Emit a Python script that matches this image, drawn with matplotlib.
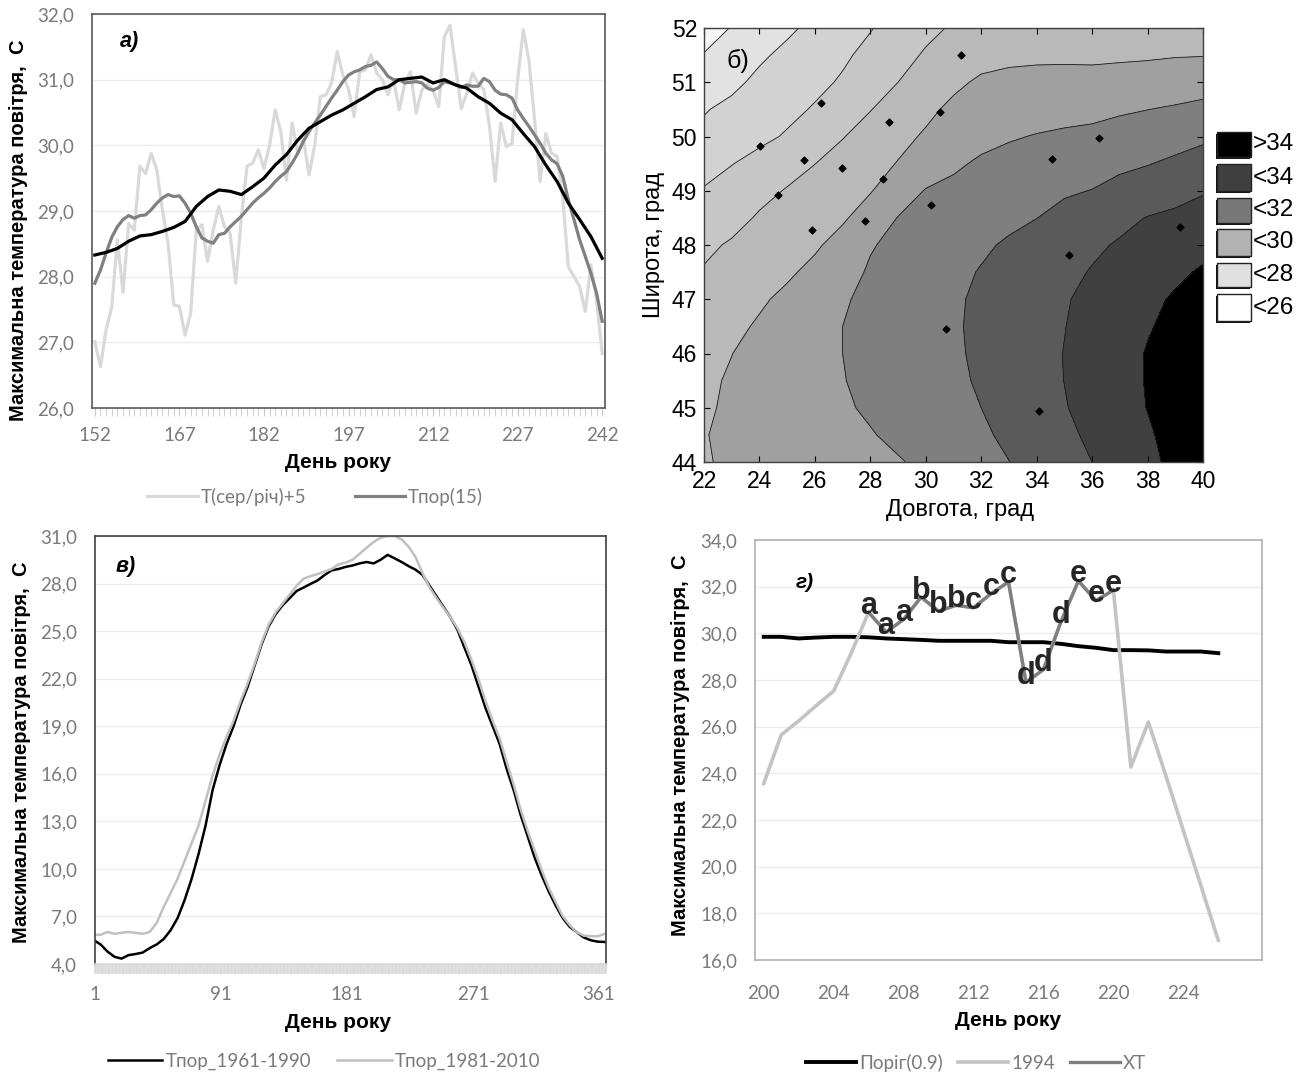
import numpy as np
import matplotlib
matplotlib.use('Agg')
import matplotlib.pyplot as plt
from matplotlib.patches import Rectangle
from matplotlib.ticker import FuncFormatter, MultipleLocator

# ---------------- data ----------------
# panel a) : summer days 152..242
days_a = np.arange(152, 243)
t_avg5 = [27.01, 26.63, 27.19, 27.54, 28.56, 27.76, 28.81, 28.71, 29.68, 29.57,
          29.88, 29.62, 29.01, 28.50, 27.57, 27.55, 27.11, 27.44, 28.71, 28.79,
          28.23, 28.71, 29.07, 28.76, 28.66, 27.90, 28.91, 29.68, 29.73, 29.93,
          29.65, 30.00, 30.54, 30.20, 29.47, 30.34, 29.88, 30.10, 29.55, 30.00,
          30.74, 30.77, 30.95, 31.43, 31.07, 30.85, 30.44, 31.12, 31.15, 31.38,
          31.10, 31.00, 30.77, 31.00, 30.54, 30.95, 31.12, 30.49, 30.84, 30.94,
          30.84, 30.59, 31.65, 31.83, 31.20, 30.56, 30.80, 31.10, 30.95, 30.85,
          30.30, 29.45, 30.34, 29.98, 30.03, 31.00, 31.76, 31.30, 30.40, 29.45,
          30.18, 29.88, 29.83, 29.20, 28.15, 28.00, 27.85, 27.47, 28.18, 27.64,
          26.83]
t_por15 = [27.90, 28.10, 28.36, 28.60, 28.76, 28.87, 28.93, 28.89, 28.93, 28.94,
           29.02, 29.12, 29.20, 29.25, 29.22, 29.23, 29.12, 28.97, 28.76, 28.59,
           28.54, 28.51, 28.64, 28.66, 28.76, 28.84, 28.92, 29.02, 29.12, 29.20,
           29.27, 29.35, 29.45, 29.53, 29.60, 29.73, 29.88, 30.06, 30.21, 30.34,
           30.46, 30.59, 30.72, 30.84, 30.97, 31.07, 31.12, 31.15, 31.20, 31.22,
           31.27, 31.17, 31.05, 31.00, 31.00, 30.95, 30.96, 30.97, 30.95, 30.87,
           30.84, 30.88, 30.97, 30.95, 30.92, 30.88, 30.92, 30.90, 30.90, 31.02,
           30.97, 30.84, 30.78, 30.77, 30.72, 30.54, 30.41, 30.29, 30.16, 30.03,
           29.88, 29.78, 29.72, 29.53, 29.17, 28.87, 28.56, 28.31, 28.05, 27.75,
           27.32]
days_smooth = np.arange(152, 243, 2)
t_smooth = [28.33, 28.37, 28.43, 28.54, 28.62, 28.64, 28.69, 28.75, 28.84, 29.07,
            29.22, 29.32, 29.30, 29.25, 29.37, 29.50, 29.70, 29.86, 30.08, 30.26,
            30.36, 30.46, 30.54, 30.64, 30.74, 30.85, 30.89, 31.00, 31.02, 31.04,
            30.95, 31.00, 30.92, 30.87, 30.74, 30.64, 30.49, 30.39, 30.18, 29.98,
            29.70, 29.45, 29.12, 28.87, 28.61, 28.28]

# panel б) : Tmax (rows = lat 44..52 by 0.5, cols = lon 22..40)
lon_grid = np.arange(22, 41)
lat_grid = np.arange(44, 52.01, 0.5)
field = [
    [29.95, 30.10, 30.24, 30.38, 30.52, 30.66, 30.80, 30.94, 31.16, 31.44, 31.71, 31.99, 32.32, 32.66, 33.00, 33.40, 33.80, 34.20, 34.45],
    [29.97, 30.14, 30.30, 30.46, 30.63, 30.79, 30.95, 31.17, 31.40, 31.64, 31.88, 32.15, 32.49, 32.81, 33.16, 33.54, 33.91, 34.25, 34.50],
    [29.90, 30.12, 30.32, 30.51, 30.70, 30.90, 31.11, 31.33, 31.55, 31.78, 32.00, 32.32, 32.63, 32.95, 33.30, 33.66, 34.02, 34.30, 34.50],
    [29.86, 30.08, 30.31, 30.53, 30.75, 30.97, 31.19, 31.41, 31.63, 31.85, 32.09, 32.39, 32.70, 33.01, 33.36, 33.71, 34.05, 34.30, 34.50],
    [29.65, 29.99, 30.24, 30.50, 30.75, 31.00, 31.22, 31.45, 31.67, 31.89, 32.14, 32.43, 32.73, 33.02, 33.36, 33.69, 34.05, 34.30, 34.50],
    [29.50, 29.80, 30.10, 30.40, 30.70, 31.00, 31.23, 31.45, 31.68, 31.91, 32.16, 32.43, 32.70, 32.98, 33.30, 33.62, 33.94, 34.20, 34.45],
    [29.30, 29.60, 29.88, 30.19, 30.55, 30.92, 31.18, 31.42, 31.65, 31.89, 32.14, 32.40, 32.67, 32.93, 33.22, 33.51, 33.80, 34.10, 34.35],
    [29.07, 29.40, 29.63, 29.87, 30.22, 30.70, 31.09, 31.33, 31.57, 31.80, 32.05, 32.30, 32.55, 32.80, 33.05, 33.31, 33.57, 33.83, 34.10],
    [28.82, 29.10, 29.37, 29.62, 29.88, 30.32, 30.94, 31.20, 31.43, 31.65, 31.87, 32.11, 32.36, 32.61, 32.86, 33.08, 33.25, 33.47, 33.75],
    [28.48, 28.70, 29.10, 29.36, 29.63, 29.89, 30.41, 31.03, 31.22, 31.41, 31.60, 31.80, 31.99, 32.25, 32.52, 32.79, 33.03, 33.16, 33.35],
    [28.07, 28.42, 28.74, 29.06, 29.36, 29.65, 29.95, 30.50, 31.05, 31.16, 31.40, 31.60, 31.80, 31.90, 32.02, 32.29, 32.50, 32.72, 32.93],
    [27.63, 27.97, 28.31, 28.65, 28.99, 29.34, 29.69, 30.04, 30.46, 30.89, 31.10, 31.25, 31.39, 31.53, 31.67, 31.81, 31.96, 32.17, 32.39],
    [27.20, 27.50, 27.78, 28.09, 28.52, 28.96, 29.36, 29.76, 30.10, 30.45, 30.80, 30.93, 31.04, 31.13, 31.21, 31.35, 31.48, 31.63, 31.83],
    [26.94, 27.21, 27.49, 27.77, 28.08, 28.53, 28.97, 29.39, 29.81, 30.18, 30.47, 30.59, 30.67, 30.72, 30.76, 30.89, 30.99, 31.10, 31.24],
    [26.48, 26.80, 27.20, 27.49, 27.78, 28.10, 28.55, 29.00, 29.42, 29.83, 30.13, 30.24, 30.28, 30.29, 30.28, 30.34, 30.40, 30.50, 30.60],
    [26.04, 26.45, 26.86, 27.21, 27.53, 27.86, 28.24, 28.67, 29.10, 29.45, 29.70, 29.80, 29.84, 29.85, 29.84, 29.87, 29.90, 29.95, 29.97],
    [25.60, 26.04, 26.44, 26.84, 27.22, 27.59, 27.95, 28.36, 28.77, 29.10, 29.25, 29.35, 29.40, 29.40, 29.40, 29.40, 29.40, 29.45, 29.50],
]
st_lon = [24.01, 24.68, 25.60, 25.90, 26.21, 26.99, 27.79, 28.46, 28.69, 30.20,
          30.50, 30.73, 31.27, 34.10, 34.55, 35.16, 36.25, 39.18]
st_lat = [49.83, 48.93, 49.57, 48.28, 50.62, 49.42, 48.44, 49.22, 50.26, 48.74,
          50.46, 46.46, 51.51, 44.94, 49.59, 47.82, 49.98, 48.33]
band_levels = [20, 26, 27, 28, 29, 30, 31, 32, 33, 34, 40]
band_colors = ['#f5f5f5', '#e2e2e2', '#d2d2d2', '#c6c6c6', '#b9b9b9',
               '#a0a0a0', '#7f7f7f', '#5a5a5a', '#404040', '#000000']
legend_labels = ['>34', '<34', '<32', '<30', '<28', '<26']
legend_colors = ['#000000', '#404040', '#787878', '#b2b2b2', '#e0e0e0', '#ffffff']

# panel в) : whole year
days_c = [1] + list(range(5, 366, 5))
t_6190 = [5.46, 5.23, 4.78, 4.45, 4.34, 4.56, 4.63, 4.72, 5.00, 5.23,
          5.57, 6.13, 6.90, 8.03, 9.37, 10.95, 12.74, 14.98, 16.55, 17.89,
          19.01, 20.36, 21.48, 22.82, 24.17, 25.29, 26.07, 26.63, 27.08, 27.53,
          27.75, 27.98, 28.20, 28.54, 28.83, 28.92, 29.05, 29.14, 29.27, 29.36,
          29.27, 29.50, 29.81, 29.59, 29.36, 29.10, 28.87, 28.54, 27.86, 27.19,
          26.52, 25.85, 25.06, 23.94, 22.82, 21.48, 20.13, 19.01, 17.89, 16.32,
          14.98, 13.41, 12.07, 10.72, 9.60, 8.59, 7.70, 6.91, 6.35, 6.02,
          5.68, 5.50, 5.41, 5.39]
t_8110 = [5.84, 5.84, 6.02, 5.90, 5.97, 6.02, 5.97, 5.90, 6.02, 6.58,
          7.59, 8.48, 9.38, 10.50, 11.62, 12.74, 14.31, 15.88, 17.22, 18.34,
          19.35, 20.58, 21.70, 22.93, 24.28, 25.40, 26.18, 26.74, 27.30, 27.86,
          28.31, 28.47, 28.60, 28.76, 28.92, 29.21, 29.32, 29.50, 29.88, 30.26,
          30.62, 30.89, 31.00, 31.00, 30.78, 30.33, 29.66, 28.65, 27.75, 27.08,
          26.45, 25.85, 25.17, 24.28, 23.16, 21.93, 20.58, 19.35, 18.23, 16.77,
          15.32, 13.75, 12.40, 11.17, 9.94, 8.82, 7.92, 7.03, 6.46, 6.02,
          5.79, 5.75, 5.75, 5.90]

# panel г) : 1994 heat wave
days_d = np.arange(200, 227)
porig = [29.85, 29.85, 29.78, 29.82, 29.85, 29.85, 29.83, 29.78, 29.75, 29.72,
         29.68, 29.68, 29.68, 29.68, 29.62, 29.62, 29.62, 29.55, 29.45, 29.38,
         29.28, 29.28, 29.27, 29.22, 29.22, 29.22, 29.15]
t_1994 = [23.56, 25.65, 26.25, 26.90, 27.53, 29.15, 30.90, 30.05, 30.60, 31.55,
          30.95, 31.20, 31.10, 31.70, 32.20, 27.90, 28.45, 30.50, 32.25, 31.40,
          31.85, 24.27, 26.20, 23.90, 21.55, 19.20, 16.84]
xt_days = np.arange(206, 221)
xt_vals = [30.90, 30.05, 30.60, 31.55, 30.95, 31.20, 31.10, 31.70, 32.20, 27.90,
           28.45, 30.50, 32.25, 31.40, 31.85]
xt_labels = ['a', 'a', 'a', 'b', 'b', 'b', 'c', 'c', 'c', 'd', 'd', 'd', 'e', 'e', 'e']

# ---------------- figure ----------------
W, H = 1301, 1075
fig = plt.figure(figsize=(W / 100, H / 100), dpi=100)

def box(x0, y0, x1, y1):
    return [x0 / W, 1 - y1 / H, (x1 - x0) / W, (y1 - y0) / H]

def fx(x):
    return x / W

def fy(y):
    return 1 - y / H

TICKF = ['Lato', 'DejaVu Sans']
BOLDF = ['Liberation Sans', 'DejaVu Sans']
NARROW = ['Liberation Sans Narrow', 'Liberation Sans', 'DejaVu Sans']
GRAY = '#7a7a7a'
comma = FuncFormatter(lambda v, p: f'{v:.1f}'.replace('.', ','))
YLAB = 'Максимальна температура повітря,  С'


def excel_axes(ax, frame='#595959'):
    for s in ax.spines.values():
        s.set_color(frame)
        s.set_linewidth(1.2)
    ax.set_axisbelow(True)
    ax.yaxis.grid(True, color='#ececec', lw=1)
    ax.yaxis.set_major_formatter(comma)
    ax.tick_params(axis='y', length=0, pad=13, labelsize=13.5, labelcolor=GRAY)
    for t in ax.get_xticklabels() + ax.get_yticklabels():
        t.set_family(TICKF)


def side_legend(ax, cx, cy, spacing, hl):
    leg = ax.legend(loc='center', bbox_to_anchor=(fx(cx), fy(cy)),
                    bbox_transform=fig.transFigure, ncol=3, frameon=False,
                    handlelength=hl, handletextpad=0.15, columnspacing=spacing,
                    prop={'family': TICKF, 'size': 13.5})
    for t in leg.get_texts():
        t.set_color(GRAY)


# ---- panel a ----
axa = fig.add_axes(box(92, 14, 605, 408))
axa.plot(days_a, t_avg5, color='#d9d9d9', lw=2.3, label='T(сер/річ)+5')
axa.plot(days_a, t_por15, color='#808080', lw=2.3, label='Тпор(15)')
axa.plot(days_smooth, t_smooth, color='#000000', lw=2.3, label='_nolegend_')
axa.set_xlim(151.5, 242.5)
axa.set_ylim(26, 32)
axa.set_xticks(np.arange(152, 243, 15))
axa.xaxis.set_minor_locator(MultipleLocator(1))
axa.tick_params(axis='x', which='both', direction='out', length=6, color='#c8c8c8',
                pad=8, labelsize=13.5, labelcolor=GRAY)
excel_axes(axa)
axa.text(0.055, 0.915, 'а)', transform=axa.transAxes, fontsize=15.5, fontweight='bold',
         style='italic', family=BOLDF)
side_legend(axa, 315, 497, 2.6, 2.7)
fig.text(fx(19), fy(230), YLAB, rotation=90, ha='center', va='center',
         fontsize=14.5, fontweight='bold', family=BOLDF)
fig.text(fx(338), fy(463), 'День року', ha='center', va='center',
         fontsize=15, fontweight='bold', family=BOLDF)

# ---- panel б ----
axb = fig.add_axes(box(704, 28, 1203, 462))
axb.contourf(lon_grid, lat_grid, np.array(field), levels=band_levels, colors=band_colors)
axb.contour(lon_grid, lat_grid, np.array(field), levels=band_levels[1:-1],
            colors='#1a1a1a', linewidths=0.6)
axb.scatter(st_lon, st_lat, marker='D', s=12, color='black', zorder=5)
axb.set_xlim(22, 40)
axb.set_ylim(44, 52)
axb.set_xticks(np.arange(22, 41, 2))
axb.set_yticks(np.arange(44, 53, 1))
axb.tick_params(direction='in', top=True, right=True, length=4, width=0.8,
                labelsize=16.5)
axb.tick_params(axis='x', pad=6)
axb.tick_params(axis='y', pad=5)
for t in axb.get_xticklabels() + axb.get_yticklabels():
    t.set_family(NARROW)
for s in axb.spines.values():
    s.set_color('#404040')
    s.set_linewidth(1.0)
axb.text(22.8, 51.4, 'б)', fontsize=18, family=NARROW, ha='left', va='center')
fig.text(fx(654), fy(245), 'Широта, град', rotation=90, ha='center', va='center',
         fontsize=17, family=NARROW)
fig.text(fx(960), fy(510), 'Довгота, град', ha='center', va='center',
         fontsize=17, family=NARROW)
box_y = [(132, 157), (164, 191), (198, 223), (229, 256), (263, 287), (294, 321)]
for (y0, y1), lab, col in zip(box_y, legend_labels, legend_colors):
    fig.add_artist(Rectangle((fx(1216), fy(y1 + 2)), 34 / W, (y1 - y0) / H,
                             transform=fig.transFigure, facecolor='#111111',
                             edgecolor='none'))
    fig.add_artist(Rectangle((fx(1217), fy(y1)), 34 / W, (y1 - y0) / H,
                             transform=fig.transFigure, facecolor=col,
                             edgecolor='#222222', lw=1.0))
    fig.text(fx(1253), fy((y0 + y1) / 2), lab, ha='left', va='center',
             fontsize=17.5, family=NARROW)

# ---- panel в ----
axc = fig.add_axes(box(95, 536, 606, 964))
axc.plot(days_c, t_6190, color='#000000', lw=1.8, label='Тпор_1961-1990')
axc.plot(days_c, t_8110, color='#c0c0c0', lw=1.8, label='Тпор_1981-2010')
axc.set_xlim(1, 366)
axc.set_ylim(4, 31)
axc.set_yticks(np.arange(4, 32, 3))
axc.set_xticks([1, 91, 181, 271, 361])
axc.xaxis.set_minor_locator(MultipleLocator(1))
axc.tick_params(axis='x', which='both', direction='out', length=7, width=1.2,
                color='#d9d9d9', pad=9, labelsize=13.5, labelcolor=GRAY)
excel_axes(axc, frame='#404040')
axc.spines['bottom'].set_color('#d9d9d9')
axc.text(0.04, 0.915, 'в)', transform=axc.transAxes, fontsize=15.5, fontweight='bold',
         style='italic', family=BOLDF)
side_legend(axc, 324, 1061, 1.4, 2.9)
fig.text(fx(22), fy(752), YLAB, rotation=90, ha='center', va='center',
         fontsize=14.5, fontweight='bold', family=BOLDF)
fig.text(fx(338), fy(1023), 'День року', ha='center', va='center',
         fontsize=15, fontweight='bold', family=BOLDF)

# ---- panel г ----
axd = fig.add_axes(box(755, 540, 1262, 960))
axd.plot(days_d, porig, color='#000000', lw=2.8, label='Поріг(0.9)')
axd.plot(days_d, t_1994, color='#c3c3c3', lw=2.6, label='1994')
axd.plot(xt_days, xt_vals, color='#7f7f7f', lw=2.4, label='ХТ')
for d, v, lab in zip(xt_days, xt_vals, xt_labels):
    axd.annotate(lab, (d, v), xytext=(0, -1), textcoords='offset points',
                 ha='center', va='baseline', fontsize=22, fontweight='bold',
                 color='#262626', family=BOLDF)
axd.set_xlim(199.5, 228.5)
axd.set_ylim(16, 34)
axd.set_xticks(np.arange(200, 225, 4))
axd.set_yticks(np.arange(16, 35, 2))
axd.tick_params(axis='x', length=0, pad=18, labelsize=13.5, labelcolor=GRAY)
excel_axes(axd, frame='#b0b0b0')
axd.text(0.08, 0.885, 'г)', transform=axd.transAxes, fontsize=15, fontweight='bold',
         style='italic', family=BOLDF)
side_legend(axd, 976, 1063, 0.8, 2.7)
fig.text(fx(681), fy(745), YLAB, rotation=90, ha='center', va='center',
         fontsize=14.5, fontweight='bold', family=BOLDF)
fig.text(fx(1008), fy(1020), 'День року', ha='center', va='center',
         fontsize=15, fontweight='bold', family=BOLDF)

fig.savefig('out.png', dpi=100, facecolor='white')
